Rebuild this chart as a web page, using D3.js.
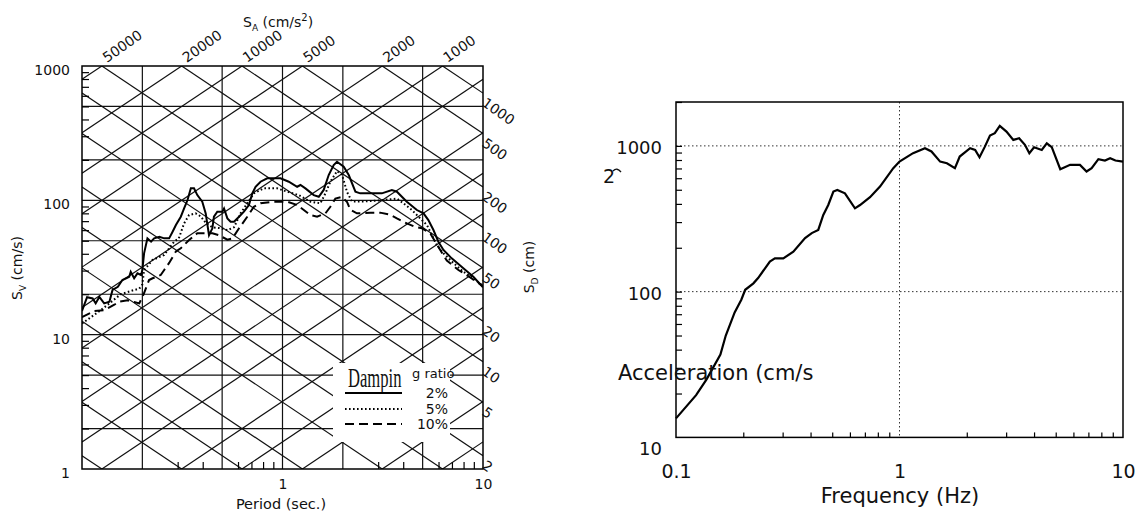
<!DOCTYPE html>
<html><head><meta charset="utf-8">
<script src="https://cdn.jsdelivr.net/npm/d3@7"></script>
<style>
body{margin:0;background:#fff}
text{font-family:"DejaVu Sans",sans-serif;fill:#111}
</style>
</head><body>
<svg id="c" width="1144" height="515"></svg>
<script>
// ---------- LEFT: tripartite response spectrum ----------
const svTickLabels = [1, 10, 100, 1000];
const periodTickLabels = [1, 10];
const periodGrid = [0.2, 0.5, 1, 2, 5];
const svGrid = [2, 5, 10, 20, 50, 100, 200, 500];
const saLines = [1, 2, 5, 10, 20, 50, 100, 200, 500, 1000, 2000, 5000, 10000, 20000, 50000];
const sdLines = [0.02, 0.05, 0.1, 0.2, 0.5, 1, 2, 5, 10, 20, 50, 100, 200, 500, 1000];
const saLabels = [50000, 20000, 10000, 5000, 2000, 1000];
const sdLabels = [1000, 500, 200, 100, 50, 20, 10, 5, 2];
const dampingLabels = ["2%", "5%", "10%"];

// 2% damping (solid)
const t2 = [0.1,0.106,0.113,0.117,0.122,0.129,0.137,0.142,0.151,0.159,0.166,0.172,0.175,0.182,0.189,0.197,0.200,0.204,0.212,0.221,0.229,0.243,0.257,0.272,0.283,0.294,0.311,0.323,0.336,0.349,0.362,0.376,0.398,0.414,0.430,0.447,0.455,0.473,0.501,0.511,0.531,0.551,0.573,0.607,0.642,0.680,0.707,0.734,0.777,0.839,0.977,1.075,1.183,1.229,1.301,1.432,1.517,1.605,1.70,1.80,1.87,2.02,2.14,2.31,2.44,2.85,3.13,3.51,3.72,4.17,4.68,5.05,5.34,5.66,5.99,6.35,6.98,7.98,8.95,10];
const sv2 = [15,19,18.6,17.1,19.1,17.1,17.6,21.5,22.7,25.5,26.3,27,29.4,26.3,28.6,27.8,30.3,40.3,52.1,49.2,52.1,53.6,52.1,52.1,58.4,65.5,75.5,87.1,100.5,122.8,122.8,109.4,97.7,80,55,61.9,75.5,82.3,82.3,87,73.4,69.3,69.3,75.5,82.3,92.3,112.7,126.2,137.6,145.8,145.8,137.6,126.2,130,122.8,109.4,106.4,119.5,154.3,183.2,193.8,177.8,154.3,115.9,112.7,112.7,112.7,119.5,115.9,97.7,84.7,80,71.3,60.1,49.2,42.7,37,31.2,27,22.5];
// 5% damping (dotted)
const t5 = [0.1,0.124,0.137,0.156,0.182,0.193,0.200,0.204,0.225,0.257,0.288,0.304,0.323,0.342,0.369,0.391,0.414,0.447,0.491,0.531,0.573,0.618,0.667,0.720,0.807,0.941,1.055,1.205,1.378,1.545,1.637,1.733,1.87,1.98,2.10,2.22,2.54,3.07,3.72,4.01,4.42,4.86,5.25,5.56,5.88,6.35,7.11,7.98,8.95,10];
const sv5 = [12.1,15.2,17.1,20,21.5,22,23.6,30.3,36,39.2,49.2,52.1,67.3,77.7,80,76,68,63,62,60,63,80,95,112.7,122.8,122.8,115.9,109.4,97.7,95,112.7,137.6,165,155,115,98,98,100,103,95,84.7,73.4,65.5,55.2,46.5,40.3,34.2,29.4,26.3,23];
// 10% damping (dashed)
const t10 = [0.1,0.115,0.129,0.145,0.153,0.169,0.182,0.193,0.203,0.216,0.225,0.247,0.257,0.272,0.294,0.311,0.342,0.376,0.447,0.481,0.531,0.562,0.607,0.667,0.720,0.777,0.905,1.055,1.183,1.378,1.488,1.637,1.733,1.835,1.98,2.10,2.18,2.35,2.74,3.07,3.45,3.72,4.17,4.59,4.96,5.45,5.78,6.12,6.60,7.54,8.53,10];
const sv10 = [13.5,15,15.2,16.7,17.6,18,17.5,17.1,20,25.5,26.3,27.8,30.3,34.2,41.6,44,50.6,56.9,56.9,55,51,52,61.9,75.5,89.5,95,97.7,97.7,92.3,77.7,75.5,80,89.5,103,106,97,85,80,81,81,78,73.4,67.3,63.4,61.9,56.9,49.2,42.7,35.6,30.3,27,23];

// ---------- RIGHT: acceleration spectrum ----------
const accelTickLabels = [10, 100, 1000];
const freqTickLabels = [0.1, 1, 10];
const accelGrid = [100, 1000];
const freqGrid = [1];
const freq = [0.1,0.123,0.137,0.158,0.167,0.183,0.196,0.204,0.222,0.233,0.263,0.277,0.302,0.335,0.378,0.405,0.433,0.456,0.48,0.506,0.527,0.570,0.632,0.666,0.738,0.818,0.938,1.0,1.15,1.30,1.39,1.52,1.63,1.77,1.86,2.07,2.18,2.28,2.41,2.54,2.67,2.81,3.01,3.23,3.43,3.64,3.81,4.0,4.33,4.56,4.80,5.24,5.80,6.42,6.87,7.24,7.76,8.3,8.76,9.25,10];
const accel = [13.5,19.5,25,37,50,72,88,103,114,124,161,169,169,188,233,252,265,336,393,486,499,473,373,393,445,526,703,780,891,964,915,780,760,703,845,964,938,836,988,1178,1222,1371,1254,1099,1129,1017,891,979,938,1042,979,692,741,741,667,703,811,794,824,794,780];

const svg = d3.select("#c");
const TWO_PI = 2 * Math.PI;
const minorOf = (decades, skip) => decades.flatMap(d => [2,3,4,5,6,7,8,9].filter(k => !(skip||[]).includes(k)).map(k => k * d));

// ===== LEFT CHART =====
const L = {x0: 82, x1: 483, y0: 66, y1: 469};
const xL = d3.scaleLog().domain([0.1, 10]).range([L.x0, L.x1]);
const yL = d3.scaleLog().domain([1, 1000]).range([L.y1, L.y0]);

svg.append("clipPath").attr("id", "clipL").append("rect")
  .attr("x", L.x0).attr("y", L.y0).attr("width", L.x1 - L.x0).attr("height", L.y1 - L.y0);

const gridL = svg.append("g").attr("clip-path", "url(#clipL)")
  .attr("stroke", "#111").attr("stroke-width", 1.2).attr("fill", "none");
gridL.selectAll("line.v").data(periodGrid).join("line").attr("class", "v")
  .attr("x1", d => xL(d)).attr("x2", d => xL(d)).attr("y1", L.y0).attr("y2", L.y1);
gridL.selectAll("line.h").data(svGrid).join("line").attr("class", "h")
  .attr("x1", L.x0).attr("x2", L.x1).attr("y1", d => yL(d)).attr("y2", d => yL(d));
// constant pseudo-acceleration lines: SV = SA*T/(2pi)
gridL.selectAll("line.sa").data(saLines).join("line").attr("class", "sa")
  .attr("x1", xL(0.1)).attr("y1", d => yL(d * 0.1 / TWO_PI))
  .attr("x2", xL(10)).attr("y2", d => yL(d * 10 / TWO_PI));
// constant displacement lines: SV = 2pi*SD/T
gridL.selectAll("line.sd").data(sdLines).join("line").attr("class", "sd")
  .attr("x1", xL(0.1)).attr("y1", d => yL(TWO_PI * d / 0.1))
  .attr("x2", xL(10)).attr("y2", d => yL(TWO_PI * d / 10));

// legend background
svg.append("rect").attr("x", 333).attr("y", 363).attr("width", 117).attr("height", 79).attr("fill", "#fff");

// curves
const lineL = d3.line().x(d => xL(d[0])).y(d => yL(d[1]));
const seriesL = [
  {t: t2, v: sv2, dash: null},
  {t: t5, v: sv5, dash: "1.6,2.4"},
  {t: t10, v: sv10, dash: "9,5"}
];
svg.append("g").attr("clip-path", "url(#clipL)").selectAll("path").data(seriesL).join("path")
  .attr("d", s => lineL(s.t.map((t, i) => [t, s.v[i]])))
  .attr("fill", "none").attr("stroke", "#000").attr("stroke-width", 2)
  .attr("stroke-dasharray", s => s.dash);

// frame
svg.append("rect").attr("x", L.x0).attr("y", L.y0).attr("width", L.x1 - L.x0).attr("height", L.y1 - L.y0)
  .attr("fill", "none").attr("stroke", "#000").attr("stroke-width", 1.5);

// minor ticks
svg.append("g").attr("transform", `translate(${L.x0},0)`)
  .call(d3.axisLeft(yL).tickValues(minorOf([1, 10, 100])).tickSize(-7).tickFormat(""))
  .call(g => g.select(".domain").remove())
  .selectAll("line").attr("stroke", "#000").attr("stroke-width", 1.2);
svg.append("g").attr("transform", `translate(0,${L.y1})`)
  .call(d3.axisBottom(xL).tickValues(minorOf([0.1, 1], [2, 5])).tickSize(-7).tickFormat(""))
  .call(g => g.select(".domain").remove())
  .selectAll("line").attr("stroke", "#000").attr("stroke-width", 1.2);

// tick labels
svg.append("g").attr("transform", `translate(${L.x0},4)`)
  .call(d3.axisLeft(yL).tickValues(svTickLabels).tickSize(0).tickPadding(12).tickFormat(d3.format("d")))
  .call(g => g.select(".domain").remove())
  .attr("font-size", 14).attr("font-family", "DejaVu Sans");
svg.append("g").attr("transform", `translate(0,${L.y1})`)
  .call(d3.axisBottom(xL).tickValues(periodTickLabels).tickSize(0).tickPadding(10).tickFormat(d3.format("d")))
  .call(g => g.select(".domain").remove())
  .attr("font-size", 14).attr("font-family", "DejaVu Sans");

// SA labels along top
svg.selectAll("text.sal").data(saLabels).join("text").attr("class", "sal")
  .attr("transform", d => `translate(${xL(TWO_PI * 1000 / d) + 5},63) rotate(-35)`)
  .attr("font-size", 14).text(d => d);
// SD labels along right
svg.selectAll("text.sdl").data(sdLabels).join("text").attr("class", "sdl")
  .attr("transform", d => `translate(${L.x1 - 2},${yL(TWO_PI * d / 10) + 12}) rotate(35)`)
  .attr("font-size", 14).text(d => d);

// axis titles
const tA = svg.append("text").attr("x", 243).attr("y", 27).attr("font-size", 14);
tA.append("tspan").text("S");
tA.append("tspan").attr("font-size", 9).attr("dy", 4).text("A");
tA.append("tspan").attr("dy", -4).text(" (cm/s");
tA.append("tspan").attr("font-size", 10).attr("dy", -6).text("2");
tA.append("tspan").attr("dy", 6).text(")");

const tV = svg.append("text").attr("transform", "translate(22,268) rotate(-90)").attr("text-anchor", "middle").attr("font-size", 14);
tV.append("tspan").text("S");
tV.append("tspan").attr("font-size", 9).attr("dy", 4).text("V");
tV.append("tspan").attr("dy", -4).text(" (cm/s)");

const tD = svg.append("text").attr("transform", "translate(534,267) rotate(-90)").attr("text-anchor", "middle").attr("font-size", 14);
tD.append("tspan").text("S");
tD.append("tspan").attr("font-size", 9).attr("dy", 4).text("D");
tD.append("tspan").attr("dy", -4).text(" (cm)");

svg.append("text").attr("x", 281).attr("y", 509).attr("text-anchor", "middle").attr("font-size", 14.5).text("Period (sec.)");

// legend
svg.append("text").attr("transform", "translate(348,387) scale(1,1.7)")
  .attr("font-size", 16.6)
  .style("font-family", "'Liberation Serif', serif").text("Dampin");
svg.append("text").attr("x", 412).attr("y", 378).attr("font-size", 13).text("g ratio");
const legY = [393, 409, 424];
const legG = svg.append("g");
legG.selectAll("line").data(seriesL).join("line")
  .attr("x1", 345).attr("x2", 402).attr("y1", (d, i) => legY[i]).attr("y2", (d, i) => legY[i])
  .attr("stroke", "#000").attr("stroke-width", 2).attr("stroke-dasharray", d => d.dash);
legG.selectAll("text").data(dampingLabels).join("text")
  .attr("x", 448).attr("y", (d, i) => legY[i] + 5).attr("text-anchor", "end").attr("font-size", 14).text(d => d);

// ===== RIGHT CHART =====
const R = {x0: 676, x1: 1123, y0: 102, y1: 437.4};
const xR = d3.scaleLog().domain([0.1, 10]).range([R.x0, R.x1]);
const yR = d3.scaleLog().domain([10, 2000]).range([R.y1, R.y0]);

const gridR = svg.append("g").attr("stroke", "#333").attr("stroke-width", 1).attr("stroke-dasharray", "1.5,2.5");
gridR.selectAll("line.h").data(accelGrid).join("line").attr("class", "h")
  .attr("x1", R.x0).attr("x2", R.x1).attr("y1", d => yR(d)).attr("y2", d => yR(d));
gridR.selectAll("line.v").data(freqGrid).join("line").attr("class", "v")
  .attr("x1", d => xR(d)).attr("x2", d => xR(d)).attr("y1", R.y0).attr("y2", R.y1);

svg.append("rect").attr("x", R.x0).attr("y", R.y0).attr("width", R.x1 - R.x0).attr("height", R.y1 - R.y0)
  .attr("fill", "none").attr("stroke", "#000").attr("stroke-width", 1.5);

svg.append("g").attr("transform", `translate(${R.x0},0)`)
  .call(d3.axisLeft(yR).tickValues(minorOf([10, 100]).concat([100, 1000, 2000])).tickSize(-6).tickFormat(""))
  .call(g => g.select(".domain").remove())
  .selectAll("line").attr("stroke", "#000").attr("stroke-width", 1.2);
svg.append("g").attr("transform", `translate(0,${R.y1})`)
  .call(d3.axisBottom(xR).tickValues(minorOf([0.1, 1])).tickSize(-5).tickFormat(""))
  .call(g => g.select(".domain").remove())
  .selectAll("line").attr("stroke", "#000").attr("stroke-width", 1.2);

const lineR = d3.line().x(d => xR(d[0])).y(d => yR(d[1]));
svg.append("path").attr("d", lineR(freq.map((f, i) => [f, accel[i]])))
  .attr("fill", "none").attr("stroke", "#000").attr("stroke-width", 2.2);

const yLab = svg.append("g").attr("transform", `translate(${R.x0},2)`)
  .call(d3.axisLeft(yR).tickValues(accelTickLabels).tickSize(0).tickPadding(14).tickFormat(d3.format("d")))
  .call(g => g.select(".domain").remove())
  .attr("font-size", 18).attr("font-family", "DejaVu Sans");
yLab.selectAll(".tick").filter(d => d === 10).select("text").attr("dy", "0.85em");

svg.append("g").attr("transform", `translate(0,${R.y1})`)
  .call(d3.axisBottom(xR).tickValues(freqTickLabels).tickSize(0).tickPadding(27).tickFormat(d => d))
  .call(g => g.select(".domain").remove())
  .attr("font-size", 19).attr("font-family", "DejaVu Sans");

svg.append("text").attr("x", 900).attr("y", 503).attr("text-anchor", "middle").attr("font-size", 21).text("Frequency (Hz)");
svg.append("text").attr("x", 618).attr("y", 380).attr("font-size", 21).text("Acceleration (cm/s");
svg.append("text").attr("x", 603).attr("y", 183).attr("font-size", 19).text("2");
svg.append("path").attr("d", "M613,171 Q617,167 621,172").attr("fill", "none").attr("stroke", "#111").attr("stroke-width", 1.3);
</script>
</body></html>
